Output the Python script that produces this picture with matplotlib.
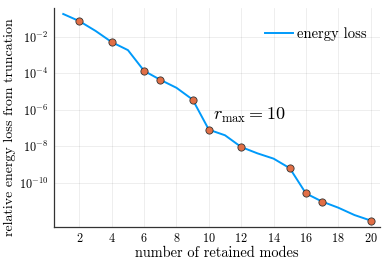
import matplotlib
matplotlib.use("Agg")
import matplotlib.pyplot as plt

plt.rcParams['font.family'] = 'serif'
plt.rcParams['font.serif'] = ['cmr10']
plt.rcParams['mathtext.fontset'] = 'cm'
plt.rcParams['axes.formatter.use_mathtext'] = True

# energy loss curve
modes = list(range(1, 21))
loss = [1.78e-1, 7.2e-2, 2.1e-2, 5.1e-3, 1.86e-3, 1.35e-4, 4.4e-5, 1.6e-5, 3.6e-6, 8.1e-8,
        4.0e-8, 9.1e-9, 4.1e-9, 2.1e-9, 6.3e-10, 2.6e-11, 9.3e-12, 4.3e-12, 1.7e-12, 8.5e-13]
marked = [2, 4, 6, 7, 9, 10, 12, 15, 16, 17, 20]
xticks = [2, 4, 6, 8, 10, 12, 14, 16, 18, 20]
yticks = [1e-2, 1e-4, 1e-6, 1e-8, 1e-10]

fig = plt.figure(figsize=(3.9, 2.6), dpi=100)
ax = fig.add_axes([0.1385, 0.128, 0.8355, 0.842])

ax.plot(modes, loss, color='#009AFA', lw=1.4, label='energy loss', zorder=2)
mk = [loss[modes.index(m)] for m in marked]
ax.plot(marked, mk, 'o', ms=5.2, mfc='#E26F46', mec='#333333', mew=0.6, zorder=3)

ax.set_yscale('log')
ax.set_xlim(0.43, 20.57)
ax.set_ylim(10 ** -12.41, 10 ** -0.41)
ax.set_xticks(xticks)
ax.set_yticks(yticks)
ax.yaxis.set_minor_locator(matplotlib.ticker.NullLocator())
ax.tick_params(labelsize=8.8, length=0, pad=4)
ax.grid(True, color='black', alpha=0.08, lw=0.6)

for s in ['top', 'right']:
    ax.spines[s].set_visible(False)
for s in ['left', 'bottom']:
    ax.spines[s].set_color('#333333')
    ax.spines[s].set_linewidth(0.9)

ax.set_xlabel('number of retained modes', fontsize=10.4, labelpad=1)
ax.set_ylabel('relative energy loss from truncation', fontsize=10.1, labelpad=1)
ax.yaxis.set_label_coords(-0.118, 0.455)
ax.text(10.25, 10 ** -6.3, r'$r_{\max} = 10$', fontsize=13, va='center')

ax.legend(loc='upper right', frameon=False, fontsize=10.6, handlelength=1.9,
          handletextpad=0.25, bbox_to_anchor=(1.0, 0.97))

fig.savefig('out.png', dpi=100)
